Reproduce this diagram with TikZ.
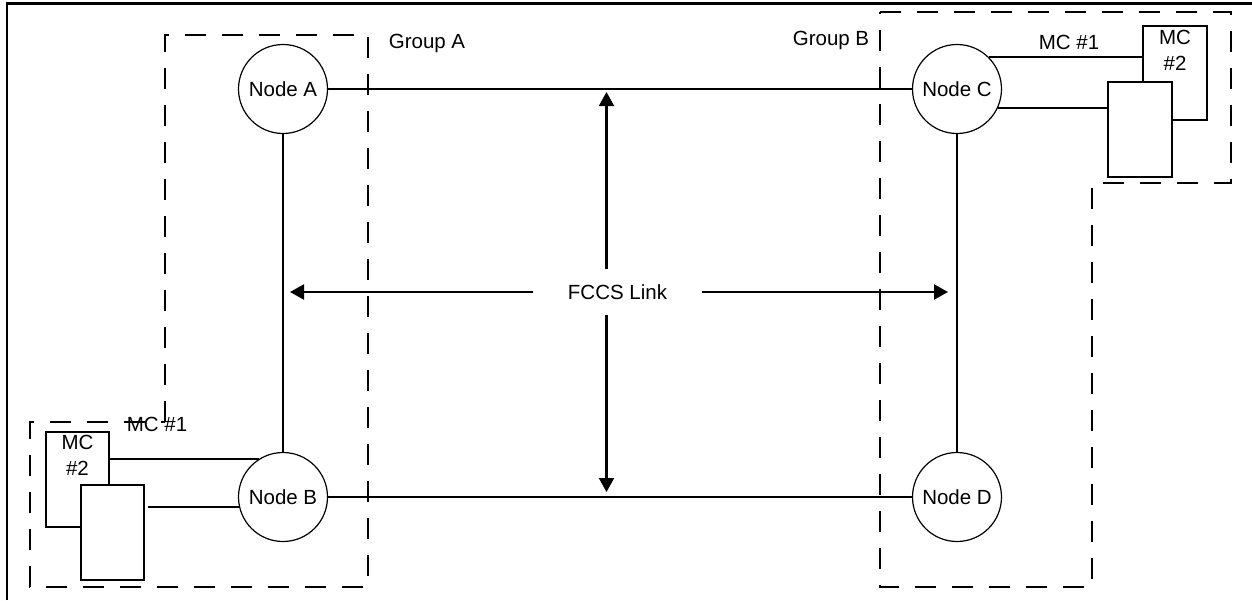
\documentclass[tikz,border=0pt]{standalone}
\usepackage{fontspec}
\setmainfont{Liberation Sans}
\usetikzlibrary{arrows.meta,calc}
\newcommand{\fsz}{\fontsize{20.5}{26}\selectfont}
\begin{document}
\begin{tikzpicture}[x=1pt,y=-1pt,
  nd/.style={circle, draw, line width=1.2pt, minimum size=89pt, inner sep=0pt, fill=white, font=\fsz},
  ln/.style={line width=2.1pt},
  grp/.style={line width=2.1pt, dash pattern=on 21pt off 16pt},
  bx/.style={draw, line width=2.1pt, fill=white, inner sep=0pt},
  arr/.style={line width=2.1pt, -{Triangle[length=14pt,width=15pt]}},
  lbl/.style={font=\fsz, inner sep=0pt, align=center}]
\useasboundingbox (0,0) rectangle (1252,600);
% frame
\draw[line width=2.2pt] (7,600) -- (7,3.5) -- (1252,3.5);
% groups
\draw[grp] (165,422) -- (165,35) -- (368,35) -- (368,587) -- (30,587) -- (30,422) -- cycle;
\draw[grp] (880,12) -- (1231,12) -- (1231,183) -- (1092,183) -- (1092,587) -- (880,587) -- cycle;
% labels
\node[lbl] (ga) at (427,43) {Group A};
\node[lbl] (gb) at (831,40) {Group B};
\node[lbl] (mc1t) at (1069,42) {MC \#1};
\node[lbl] (mc1b) at (157,424) {MC \#1};
% nodes
\node[nd] (A) at (283,89) {Node A};
\node[nd] (B) at (283,497) {Node B};
\node[nd] (C) at (957,89) {Node C};
\node[nd] (D) at (957,497) {Node D};
% MC boxes top right
\node[bx, minimum width=64pt, minimum height=94pt] (mcC) at (1175,73) {};
\node[lbl] (mcCt) at ([yshift=-25pt]mcC.north) {MC\\\#2};
\node[bx, minimum width=64pt, minimum height=95pt] (fbC) at (1140,129.5) {};
% MC boxes bottom left
\node[bx, minimum width=63pt, minimum height=95pt] (mcB) at (77.5,479.5) {};
\node[lbl] (mcBt) at ([yshift=-24.5pt]mcB.north) {MC\\\#2};
\node[bx, minimum width=63pt, minimum height=95pt] (fbB) at (112.5,532.5) {};
% links
\draw[ln] (A) -- (C);
\draw[ln] (B) -- (D);
\draw[ln] (A) -- (B);
\draw[ln] (C) -- (D);
\coordinate (c1) at (C.45);
\coordinate (c2) at (C.-25.6);
\draw[ln] (c1) -- (mcC.west |- c1);
\draw[ln] (c2) -- (fbC.west |- c2);
\coordinate (b1) at (B.122.8);
\coordinate (b2) at (B.193.1);
\draw[ln] (b1) -- (mcB.east |- b1);
\draw[ln] (b2) -- ([xshift=3pt]fbB.east |- b2);
% FCCS link
\node[lbl, minimum width=169pt, minimum height=45pt] (F) at (617.5,292) {FCCS Link};
\coordinate (lt) at (290,292);
\coordinate (rt) at (948,292);
\coordinate (up) at (606.5,92);
\coordinate (dn) at (606.5,492);
\draw[arr] (F.west) -- (lt);
\draw[arr] (F.east) -- (rt);
\draw[arr] (F.north -| up) -- (up);
\draw[arr] (F.south -| dn) -- (dn);
\end{tikzpicture}
\end{document}
